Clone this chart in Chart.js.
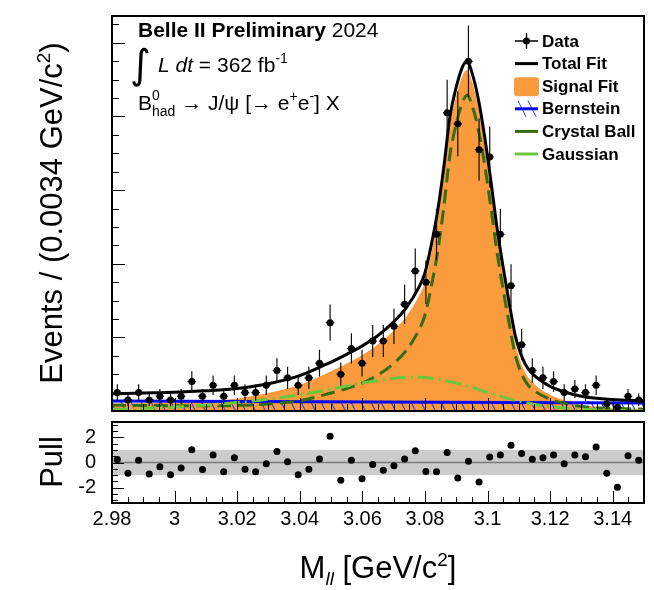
<!DOCTYPE html>
<html>
<head>
  <title>Belle II J/psi -> e+e- mass fit</title>
  <script src="https://cdn.jsdelivr.net/npm/chart.js"></script>
  <style>
    body { margin: 0; background: #fff; }
    #wrap { position: relative; width: 654px; height: 590px; }
    #wrap canvas { position: absolute; left: 0; }
  </style>
</head>
<body>
<div id="wrap">
  <canvas id="fitChart" width="654" height="418" style="top:0"></canvas>
  <canvas id="pullChart" width="654" height="172" style="top:418px"></canvas>
</div>

<script>
  // histogram binning: 50 bins of 0.0034 GeV/c^2
  var massMin = 2.98, massMax = 3.15, binWidth = 0.0034;

  var counts = [5, 3, 5, 3, 4, 3, 4, 8, 4, 7,
                4, 7, 5, 5, 7, 11, 9, 7, 9, 13,
                24, 10, 17, 13, 19, 19, 23, 29, 38, 35,
                48, 81, 78, 95, 71, 69, 48, 34, 18, 11,
                9, 8, 5, 6, 5, 7, 2, 1, 4, 3];

  var pulls = [0.23, -0.85, 0.18, -0.9, -0.33, -0.97, -0.44, 1.0, -0.56, 0.59,
               -0.74, 0.38, -0.54, -0.74, -0.1, 0.87, 0.05, -0.97, -0.54, 0.28,
               2.08, -1.41, 0.18, -1.28, -0.15, -0.62, -0.26, 0.28, 0.92, -0.72,
               -0.74, 0.79, -1.23, 0.1, -1.54, 0.44, 0.59, 1.36, 0.72, 0.26,
               0.38, 0.59, -0.1, 0.59, 0.46, 1.23, -0.85, -1.95, 0.54, 0.18];

  // fit curves, sampled along the mass axis
  var fitX = [2.98, 2.99, 3.00, 3.01, 3.02, 3.03, 3.04, 3.05, 3.055, 3.06,
              3.065, 3.07, 3.074, 3.078, 3.080, 3.082, 3.084, 3.086, 3.088, 3.090,
              3.092, 3.0935, 3.095, 3.097, 3.099, 3.101, 3.103, 3.105, 3.107, 3.109,
              3.112, 3.115, 3.12, 3.125, 3.13, 3.14, 3.15];
  var totalFit = [4.7, 4.9, 5.1, 5.5, 6.1, 7.4, 9.6, 13.3, 15.4, 17.7,
                  20.5, 24.2, 28, 33.5, 37.5, 45, 54, 66, 80, 88,
                  93.5, 95, 92, 85, 75, 63, 50, 39, 29, 20,
                  12.8, 9.6, 6.7, 5.1, 4.0, 3.1, 2.8];
  var signalFit = [2.0, 2.1, 2.3, 2.7, 3.4, 4.9, 7.1, 10.8, 12.9, 15.2,
                   18.1, 21.8, 25.6, 31.1, 35.1, 42.6, 51.6, 63.6, 77.6, 85.6,
                   91.1, 92.6, 89.6, 82.6, 72.6, 60.6, 47.7, 36.7, 26.7, 17.7,
                   10.5, 7.3, 4.4, 2.8, 1.7, 0.9, 0.6];
  var cbFit = [1.6, 1.5, 1.45, 1.4, 1.5, 1.9, 2.8, 4.9, 6.1, 7.6,
               9.8, 12.9, 16.4, 21.9, 26, 33.7, 42.9, 55.2, 69.6, 78,
               83.9, 85.8, 83.2, 76.7, 67.3, 55.8, 43.4, 32.9, 23.4, 14.8,
               8.2, 5.5, 3.2, 2.0, 1.2, 0.7, 0.5];
  var gaussFit = [0.4, 0.7, 1.1, 1.6, 2.3, 3.2, 4.4, 5.9, 6.8, 7.6,
                  8.3, 8.9, 9.2, 9.2, 9.1, 8.9, 8.7, 8.4, 8.0, 7.6,
                  7.2, 6.8, 6.4, 5.9, 5.3, 4.8, 4.3, 3.8, 3.3, 2.9,
                  2.3, 1.8, 1.2, 0.8, 0.5, 0.2, 0.08];
  var bernX = [2.98, 3.065, 3.15];
  var bernFit = [2.7, 2.45, 2.2];

  var xLabelValues = [2.98, 3.00, 3.02, 3.04, 3.06, 3.08, 3.10, 3.12, 3.14];
  var xLabelText = ['2.98', '3', '3.02', '3.04', '3.06', '3.08', '3.1', '3.12', '3.14'];
  var pullLabelValues = [-2, 0, 2];

  var FONT = '"Liberation Sans", Arial, Helvetica, sans-serif';
  Chart.defaults.font.family = FONT;
  Chart.defaults.color = '#000';

  var binCenters = counts.map(function (_, i) { return massMin + binWidth * (i + 0.5); });
  function pts(xs, ys) { return xs.map(function (x, i) { return { x: x, y: ys[i] }; }); }

  function tickValues(min, max, step) {
    var out = [];
    var k0 = Math.ceil(min / step - 1e-6), k1 = Math.floor(max / step + 1e-6);
    for (var k = k0; k <= k1; k++) out.push(k * step);
    return out;
  }
  function isMajor(v, step) { return Math.abs(v / step - Math.round(v / step)) < 1e-6; }

  // text made of pieces with their own font and vertical shift
  function richText(ctx, x, y, parts, align) {
    var widths = parts.map(function (p) { ctx.font = p.font; return ctx.measureText(p.t).width; });
    var total = 0;
    parts.forEach(function (p, i) { if (!p.hold) total += widths[i]; });
    var cx = align === 'center' ? x - total / 2 : x;
    parts.forEach(function (p, i) {
      ctx.font = p.font;
      ctx.fillText(p.t, cx, y + (p.dy || 0));
      if (!p.hold) cx += widths[i];
    });
  }

  function hatchPattern(ctx) {
    var c = document.createElement('canvas');
    c.width = 10; c.height = 20;
    var g = c.getContext('2d');
    g.strokeStyle = '#2a3fe0';
    g.lineWidth = 1.1;
    g.beginPath(); g.moveTo(-1, -2); g.lineTo(11, 22); g.stroke();
    return ctx.createPattern(c, 'repeat');
  }

  // poisson error bars under the data markers
  var errorBars = {
    id: 'errorBars',
    beforeDatasetDraw: function (chart, args) {
      var ds = chart.data.datasets[args.index];
      if (!ds.errorBars) return;
      var ctx = chart.ctx, a = chart.chartArea, x = chart.scales.x, y = chart.scales.y;
      ctx.save();
      ctx.beginPath(); ctx.rect(a.left, a.top, a.right - a.left, a.bottom - a.top); ctx.clip();
      ctx.strokeStyle = '#111';
      ctx.lineWidth = 1.2;
      ds.data.forEach(function (p) {
        var err = Math.sqrt(p.y);
        var px = x.getPixelForValue(p.x), py = y.getPixelForValue(p.y);
        ctx.beginPath();
        ctx.moveTo(px, y.getPixelForValue(p.y + err));
        ctx.lineTo(px, y.getPixelForValue(p.y - err));
        ctx.moveTo(x.getPixelForValue(p.x - binWidth * 0.4), py);
        ctx.lineTo(x.getPixelForValue(p.x + binWidth * 0.4), py);
        ctx.stroke();
      });
      ctx.restore();
    }
  };

  // ROOT style frame with ticks pointing inwards
  var frameTicks = {
    id: 'frameTicks',
    afterDraw: function (chart, args, o) {
      var ctx = chart.ctx, a = chart.chartArea, x = chart.scales.x, y = chart.scales.y;
      ctx.save();
      ctx.strokeStyle = '#000';
      ctx.lineWidth = 1;
      ctx.beginPath();
      tickValues(x.min, x.max, o.xMinor).forEach(function (v) {
        var px = Math.round(x.getPixelForValue(v)) + 0.5;
        var len = isMajor(v, o.xMajor) ? o.majorLen : o.minorLen;
        ctx.moveTo(px, a.bottom); ctx.lineTo(px, a.bottom - len);
      });
      tickValues(y.min, y.max, o.yMinor).forEach(function (v) {
        var py = Math.round(y.getPixelForValue(v)) + 0.5;
        var len = isMajor(v, o.yMajor) ? o.majorLen : o.minorLen;
        ctx.moveTo(a.left, py); ctx.lineTo(a.left + len, py);
      });
      ctx.stroke();
      ctx.lineWidth = 2;
      ctx.strokeRect(a.left, a.top, a.right - a.left, a.bottom - a.top);
      ctx.restore();
    }
  };

  var legendRows = ['Data', 'Total Fit', 'Signal Fit', 'Bernstein', 'Crystal Ball', 'Gaussian'];

  var mainText = {
    id: 'mainText',
    afterDraw: function (chart) {
      var ctx = chart.ctx;
      ctx.save();
      ctx.fillStyle = '#000';
      ctx.textBaseline = 'alphabetic';
      ctx.textAlign = 'left';

      var f21 = '21px ' + FONT, f14 = '14px ' + FONT;
      richText(ctx, 138, 37, [
        { t: 'Belle II Preliminary ', font: 'bold 21px ' + FONT },
        { t: '2024', font: f21 }
      ]);
      ctx.font = 'italic 40px "DejaVu Sans", sans-serif';
      ctx.fillText('\u222B', 130, 78);
      richText(ctx, 158, 72, [
        { t: 'L', font: 'italic ' + f21 },
        { t: ' ', font: f21 },
        { t: 'dt', font: 'italic ' + f21 },
        { t: ' = 362 fb', font: f21 },
        { t: '-1', font: f14, dy: -9 }
      ]);
      richText(ctx, 138, 110, [
        { t: 'B', font: f21 },
        { t: '0', font: f14, dy: -10, hold: true },
        { t: 'had', font: f14, dy: 6 },
        { t: ' \u2192 J/\u03C8 [\u2192 e', font: f21 },
        { t: '+', font: f14, dy: -9 },
        { t: 'e', font: f21 },
        { t: '-', font: f14, dy: -9 },
        { t: '] X', font: f21 }
      ]);

      // y axis title
      ctx.save();
      ctx.translate(51, 213);
      ctx.rotate(-Math.PI / 2);
      richText(ctx, 0, 11, [
        { t: 'Events / (0.0034 GeV/c', font: '31px ' + FONT },
        { t: '2', font: '19px ' + FONT, dy: -12 },
        { t: ')', font: '31px ' + FONT }
      ], 'center');
      ctx.restore();

      // legend
      var lx = 515, lw = 23;
      ctx.font = 'bold 17px ' + FONT;
      ctx.textBaseline = 'middle';
      legendRows.forEach(function (name, i) {
        var yy = 41 + i * 22.6;
        ctx.save();
        if (name === 'Data') {
          ctx.strokeStyle = '#000'; ctx.lineWidth = 1.3;
          ctx.beginPath();
          ctx.moveTo(lx, yy); ctx.lineTo(lx + lw, yy);
          ctx.moveTo(lx + lw / 2, yy - 8); ctx.lineTo(lx + lw / 2, yy + 8);
          ctx.stroke();
          ctx.beginPath(); ctx.arc(lx + lw / 2, yy, 3.5, 0, 2 * Math.PI); ctx.fill();
        } else if (name === 'Signal Fit') {
          ctx.fillStyle = '#fa9b3d';
          ctx.beginPath(); ctx.roundRect(lx - 1, yy - 9, lw + 2, 19, 3); ctx.fill();
        } else if (name === 'Bernstein') {
          ctx.strokeStyle = '#2a3fe0'; ctx.lineWidth = 1;
          ctx.beginPath();
          ctx.moveTo(lx + 3, yy - 8); ctx.lineTo(lx + 11, yy + 8);
          ctx.moveTo(lx + 13, yy - 8); ctx.lineTo(lx + 21, yy + 8);
          ctx.stroke();
          ctx.strokeStyle = '#0000ff'; ctx.lineWidth = 3;
          ctx.beginPath(); ctx.moveTo(lx, yy); ctx.lineTo(lx + lw, yy); ctx.stroke();
        } else {
          ctx.strokeStyle = name === 'Total Fit' ? '#000' : (name === 'Crystal Ball' ? '#366b12' : '#6cc63c');
          ctx.lineWidth = 3;
          ctx.beginPath(); ctx.moveTo(lx, yy); ctx.lineTo(lx + lw, yy); ctx.stroke();
        }
        ctx.restore();
        ctx.fillText(name, 542, yy + 1);
      });
      ctx.restore();
    }
  };

  var fitCtx = document.getElementById('fitChart').getContext('2d');

  new Chart(fitCtx, {
    type: 'line',
    data: {
      datasets: [
        { label: 'Data', data: pts(binCenters, counts), showLine: false, errorBars: true,
          pointRadius: 3.5, pointBackgroundColor: '#000', pointBorderColor: '#000', pointBorderWidth: 0, order: 0 },
        { label: 'Total Fit', data: pts(fitX, totalFit), borderColor: '#000', borderWidth: 3,
          pointRadius: 0, cubicInterpolationMode: 'monotone', order: 1 },
        { label: 'Gaussian', data: pts(fitX, gaussFit), borderColor: '#6cc63c', borderWidth: 3,
          borderDash: [16, 5, 2, 5], pointRadius: 0, cubicInterpolationMode: 'monotone', order: 2 },
        { label: 'Crystal Ball', data: pts(fitX, cbFit), borderColor: '#366b12', borderWidth: 3,
          borderDash: [14, 7], pointRadius: 0, cubicInterpolationMode: 'monotone', order: 3 },
        { label: 'Bernstein', data: pts(bernX, bernFit), borderColor: '#0000ff', borderWidth: 3,
          fill: 'origin', backgroundColor: hatchPattern(fitCtx), pointRadius: 0, order: 4 },
        { label: 'Signal Fit', data: pts(fitX, signalFit), borderColor: 'rgba(0,0,0,0)', borderWidth: 0,
          fill: 'origin', backgroundColor: '#fa9b3d', pointRadius: 0, cubicInterpolationMode: 'monotone', order: 5 }
      ]
    },
    options: {
      responsive: false,
      animation: false,
      devicePixelRatio: 1,
      layout: { padding: { left: 112, right: 10, top: 16, bottom: 7 } },
      scales: {
        x: { type: 'linear', display: false, min: massMin, max: massMax },
        y: { display: false, min: 0, max: 107.3 }
      },
      plugins: {
        legend: { display: false },
        tooltip: { enabled: false },
        frameTicks: { xMinor: 0.005, xMajor: 0.02, yMinor: 5, yMajor: 20, majorLen: 13, minorLen: 7 }
      }
    },
    plugins: [errorBars, frameTicks, mainText]
  });

  // pull panel: band, zero line, titles
  var pullDecor = {
    id: 'pullDecor',
    beforeDatasetsDraw: function (chart) {
      var ctx = chart.ctx, a = chart.chartArea, y = chart.scales.y;
      ctx.save();
      ctx.fillStyle = '#cccccc';
      var top = y.getPixelForValue(1), bot = y.getPixelForValue(-1);
      ctx.fillRect(a.left, top, a.right - a.left, bot - top);
      ctx.strokeStyle = '#7a7a7a';
      ctx.lineWidth = 1.5;
      ctx.beginPath();
      ctx.moveTo(a.left, y.getPixelForValue(0));
      ctx.lineTo(a.right, y.getPixelForValue(0));
      ctx.stroke();
      ctx.restore();
    },
    afterDraw: function (chart) {
      var ctx = chart.ctx;
      ctx.save();
      ctx.fillStyle = '#000';
      ctx.textBaseline = 'alphabetic';
      ctx.textAlign = 'left';
      richText(ctx, 378, 160, [
        { t: 'M', font: '31px ' + FONT },
        { t: 'll', font: 'italic 19px ' + FONT, dy: 7 },
        { t: ' [GeV/c', font: '31px ' + FONT },
        { t: '2', font: '19px ' + FONT, dy: -12 },
        { t: ']', font: '31px ' + FONT }
      ], 'center');
      ctx.translate(51, 44);
      ctx.rotate(-Math.PI / 2);
      richText(ctx, 0, 11, [{ t: 'Pull', font: '31px ' + FONT }], 'center');
      ctx.restore();
    }
  };

  new Chart(document.getElementById('pullChart'), {
    type: 'line',
    data: {
      datasets: [
        { label: 'Pull', data: pts(binCenters, pulls), showLine: false,
          pointRadius: 3.5, pointBackgroundColor: '#000', pointBorderColor: '#000', pointBorderWidth: 0 }
      ]
    },
    options: {
      responsive: false,
      animation: false,
      devicePixelRatio: 1,
      layout: { padding: { left: 0, right: 10, top: 1, bottom: 0 } },
      scales: {
        x: {
          type: 'linear', min: massMin, max: massMax,
          afterBuildTicks: function (s) { s.ticks = xLabelValues.map(function (v) { return { value: v }; }); },
          afterFit: function (s) { s.height = 87; s.paddingLeft = 0; s.paddingRight = 0; },
          grid: { display: false }, border: { display: false },
          ticks: { font: { size: 20 }, padding: -4, maxRotation: 0, autoSkip: false,
                   callback: function (v, i) { return xLabelText[i]; } }
        },
        y: {
          min: -3.2, max: 3.2,
          afterBuildTicks: function (s) { s.ticks = pullLabelValues.map(function (v) { return { value: v }; }); },
          afterFit: function (s) { s.width = 112; s.paddingTop = 0; s.paddingBottom = 0; },
          grid: { display: false }, border: { display: false },
          ticks: { font: { size: 20 }, padding: 8 }
        }
      },
      plugins: {
        legend: { display: false },
        tooltip: { enabled: false },
        frameTicks: { xMinor: 0.005, xMajor: 0.02, yMinor: 0.5, yMajor: 2, majorLen: 12, minorLen: 6 }
      }
    },
    plugins: [pullDecor, frameTicks]
  });
</script>
</body>
</html>
